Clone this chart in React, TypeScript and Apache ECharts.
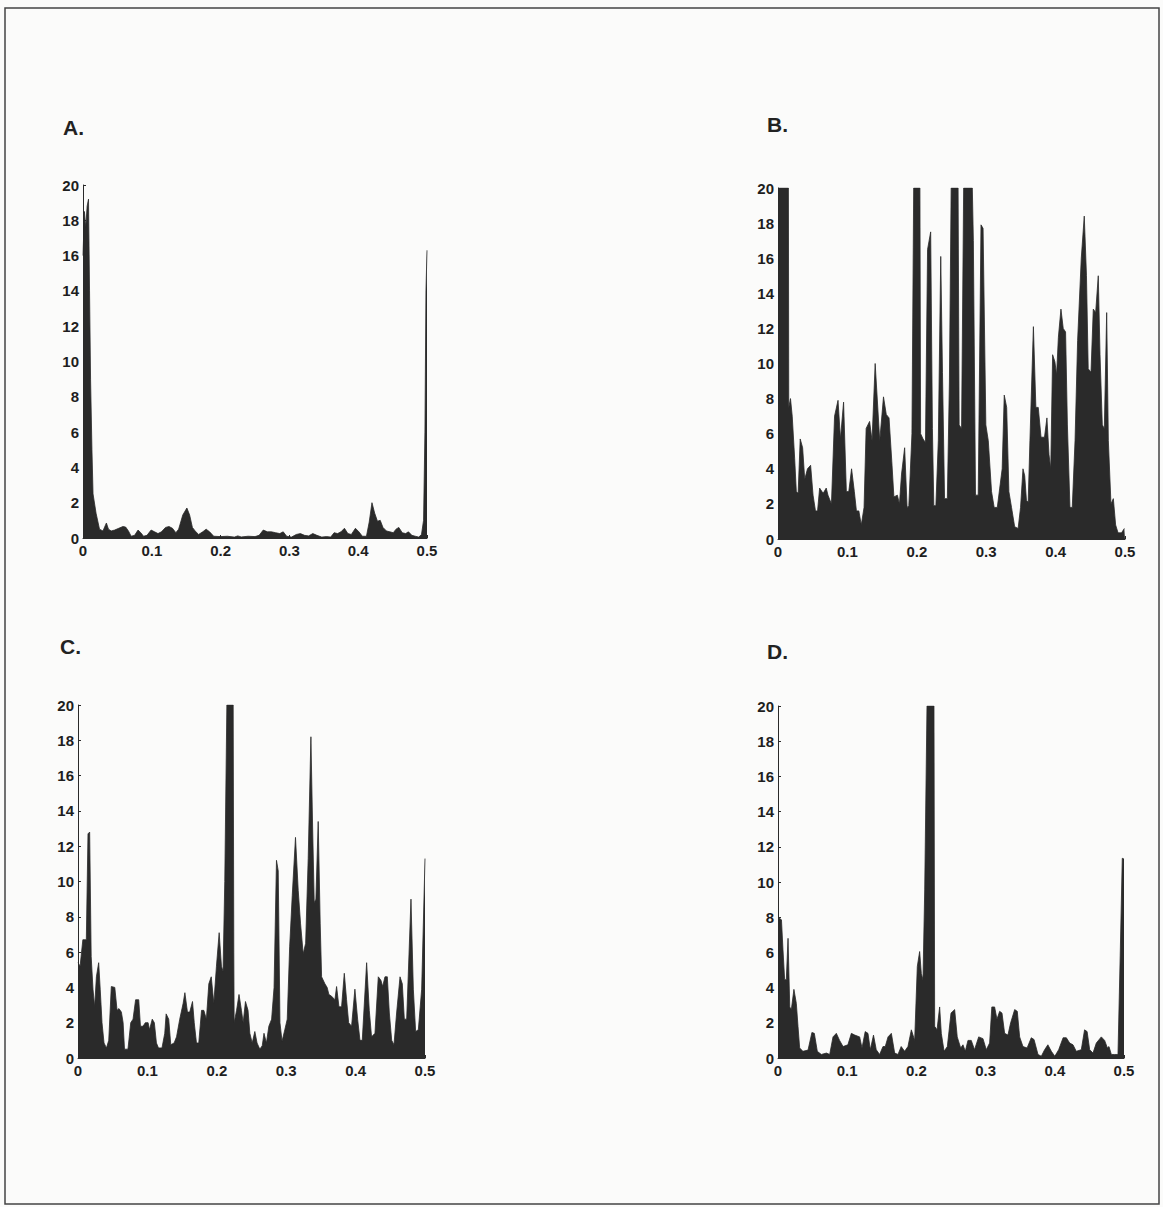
import React, { useEffect, useRef } from "react";
import * as echarts from "echarts";

// x from 0 to 0.5, y (clipped at 20)
const panelLabels = ["A.", "B.", "C.", "D."];
const xTicks = [0, 0.1, 0.2, 0.3, 0.4, 0.5];
const yTicks = [0, 2, 4, 6, 8, 10, 12, 14, 16, 18, 20];

const seriesA: [number, number][] = [
  [0, 16], [0.002, 18.5], [0.004, 17.6], [0.006, 18.8], [0.008, 19.2], [0.0095, 14], [0.011, 9], [0.013, 5],
  [0.0146, 2.5], [0.019, 1.4], [0.024, 0.5], [0.029, 0.4], [0.034, 0.85], [0.037, 0.5], [0.041, 0.4],
  [0.046, 0.45], [0.052, 0.55], [0.058, 0.65], [0.062, 0.62], [0.066, 0.4], [0.07, 0.1], [0.075, 0.15],
  [0.08, 0.45], [0.084, 0.3], [0.088, 0.1], [0.093, 0.15], [0.099, 0.45], [0.104, 0.35], [0.109, 0.25],
  [0.114, 0.35], [0.12, 0.6], [0.125, 0.65], [0.13, 0.55], [0.135, 0.3], [0.139, 0.5], [0.145, 1.3],
  [0.151, 1.7], [0.155, 1.3], [0.159, 0.6], [0.163, 0.4], [0.168, 0.2], [0.174, 0.35], [0.179, 0.5],
  [0.184, 0.35], [0.19, 0.1], [0.2, 0.08], [0.21, 0.1], [0.22, 0.05], [0.225, 0.12], [0.23, 0.06],
  [0.24, 0.1], [0.25, 0.08], [0.256, 0.15], [0.262, 0.45], [0.268, 0.35], [0.274, 0.35], [0.28, 0.3],
  [0.286, 0.25], [0.291, 0.35], [0.296, 0.1], [0.303, 0.05], [0.31, 0.2], [0.316, 0.25], [0.322, 0.15],
  [0.328, 0.12], [0.334, 0.25], [0.34, 0.15], [0.347, 0.05], [0.354, 0.08], [0.36, 0.05], [0.365, 0.3],
  [0.37, 0.25], [0.375, 0.35], [0.38, 0.55], [0.385, 0.25], [0.39, 0.2], [0.396, 0.55], [0.401, 0.35],
  [0.406, 0.1], [0.412, 0.1], [0.416, 0.9], [0.42, 2.0], [0.424, 1.4], [0.428, 0.95], [0.432, 1.0],
  [0.436, 0.6], [0.441, 0.4], [0.446, 0.35], [0.451, 0.3], [0.455, 0.5], [0.459, 0.6], [0.464, 0.3],
  [0.469, 0.25], [0.473, 0.35], [0.478, 0.15], [0.483, 0.1], [0.488, 0.05], [0.492, 0.2], [0.495, 1.0],
  [0.497, 6], [0.4985, 14], [0.5, 16.3],
];

const seriesB: [number, number][] = [
  [0, 20], [0.015, 20], [0.0155, 7.5], [0.018, 8], [0.0205, 7], [0.024, 4.6], [0.0264, 2.7], [0.029, 2.6],
  [0.032, 5.7], [0.0355, 5.2], [0.0385, 3.4], [0.0425, 4.0], [0.047, 4.2], [0.0505, 2.5], [0.054, 1.6],
  [0.057, 1.6], [0.06, 2.9], [0.065, 2.6], [0.0695, 2.9], [0.072, 2.5], [0.077, 2.0], [0.0815, 7.0],
  [0.0865, 7.9], [0.09, 5.7], [0.0945, 7.8], [0.0985, 2.7], [0.102, 2.7], [0.106, 4.0], [0.11, 2.7],
  [0.113, 1.6], [0.1165, 1.6], [0.12, 0.8], [0.124, 1.8], [0.127, 6.3], [0.132, 6.7], [0.1355, 5.6],
  [0.14, 10], [0.1466, 5.6], [0.152, 8.1], [0.156, 7.1], [0.16, 6.9], [0.164, 4.4], [0.167, 2.4],
  [0.172, 2.5], [0.175, 2.0], [0.178, 3.7], [0.1825, 5.2], [0.186, 1.8], [0.1885, 1.9], [0.193, 6],
  [0.1955, 20], [0.2045, 20], [0.2055, 6], [0.209, 5.7], [0.2125, 5.5], [0.2155, 16.5], [0.22, 17.5],
  [0.2225, 6.3], [0.2245, 1.9], [0.2275, 1.9], [0.231, 5.6], [0.2345, 16.1], [0.237, 9.5], [0.24, 2.3],
  [0.244, 2.3], [0.247, 9], [0.2495, 20], [0.2595, 20], [0.261, 6.5], [0.2645, 6.3], [0.2675, 20],
  [0.28, 20], [0.2815, 17], [0.2846, 2.5], [0.2885, 2.5], [0.2925, 17.9], [0.2955, 17.7], [0.2995, 6.5],
  [0.303, 5.6], [0.3077, 2.7], [0.3115, 1.8], [0.316, 1.8], [0.3195, 2.9], [0.323, 4.0], [0.326, 8.2],
  [0.3295, 7.5], [0.3327, 2.7], [0.3365, 1.8], [0.341, 0.7], [0.346, 0.6], [0.3495, 1.8], [0.353, 4.0],
  [0.3555, 3.6], [0.358, 2.2], [0.3605, 2.1], [0.363, 5.6], [0.368, 12.1], [0.3716, 7.5], [0.375, 7.5],
  [0.379, 5.8], [0.384, 5.8], [0.3875, 6.9], [0.3905, 4.8], [0.393, 4.0], [0.3957, 10.5], [0.399, 10.1],
  [0.4014, 9.35], [0.404, 11.5], [0.4077, 13.1], [0.411, 12], [0.4144, 11.8], [0.417, 6.5], [0.4207, 1.8],
  [0.424, 1.8], [0.428, 5.6], [0.4317, 11.3], [0.437, 16], [0.4413, 18.4], [0.4445, 15], [0.447, 9.7],
  [0.451, 9.5], [0.4543, 13.1], [0.4577, 12.9], [0.4615, 15], [0.464, 10.5], [0.4673, 6.5], [0.4702, 6.3],
  [0.4736, 12.9], [0.476, 5.6], [0.4798, 2.0], [0.4832, 2.3], [0.4865, 0.8], [0.49, 0.35], [0.495, 0.35],
  [0.499, 0.6], [0.5, 0.6],
];

const seriesC: [number, number][] = [
  [0, 5.4], [0.003, 5.2], [0.007, 6.7], [0.012, 6.7], [0.0144, 12.7], [0.0168, 12.8], [0.019, 5.75],
  [0.0216, 3.9], [0.024, 2.9], [0.0265, 4.6], [0.0298, 5.4], [0.032, 3.9], [0.0346, 2.0], [0.0375, 0.85],
  [0.041, 0.57], [0.0443, 1.0], [0.048, 4.05], [0.053, 4.0], [0.0563, 2.7], [0.059, 2.8], [0.0625, 2.6],
  [0.065, 2.0], [0.067, 0.5], [0.072, 0.5], [0.076, 2.0], [0.0793, 2.2], [0.083, 3.3], [0.0875, 3.3],
  [0.09, 1.8], [0.0937, 1.8], [0.097, 2.0], [0.101, 2.0], [0.103, 1.6], [0.107, 2.2], [0.11, 2.0],
  [0.113, 0.85], [0.116, 0.57], [0.121, 0.57], [0.125, 1.4], [0.127, 2.5], [0.1307, 2.2], [0.1337, 0.75],
  [0.1385, 0.85], [0.142, 1.2], [0.1466, 2.2], [0.1515, 3.1], [0.154, 3.7], [0.1577, 2.6], [0.161, 2.6],
  [0.165, 3.2], [0.1675, 2.0], [0.1707, 0.85], [0.174, 0.85], [0.178, 2.7], [0.1813, 2.7], [0.185, 2.2],
  [0.1885, 4.2], [0.192, 4.6], [0.1957, 3.1], [0.1995, 5.2], [0.2034, 7.1], [0.2067, 5.2], [0.209, 4.9],
  [0.2115, 10], [0.2145, 20], [0.2236, 20], [0.2245, 6], [0.225, 2.0], [0.2285, 2.7], [0.232, 3.6],
  [0.2355, 2.7], [0.238, 2.0], [0.2413, 3.2], [0.245, 2.7], [0.2476, 1.4], [0.251, 0.85], [0.2548, 1.5],
  [0.258, 0.85], [0.262, 0.5], [0.2655, 0.7], [0.268, 1.4], [0.2715, 0.85], [0.275, 1.8], [0.279, 2.2],
  [0.2825, 4], [0.286, 11.2], [0.2885, 10.6], [0.291, 2.0], [0.294, 0.95], [0.298, 1.6], [0.3015, 2.2],
  [0.305, 6.3], [0.3087, 9.2], [0.3134, 12.5], [0.3173, 9.5], [0.3207, 7.6], [0.3245, 5.9], [0.328, 6.5],
  [0.3317, 11.3], [0.3356, 18.2], [0.338, 13.2], [0.3404, 8.8], [0.3428, 9], [0.3461, 13.4], [0.349, 7.6],
  [0.351, 4.6], [0.3558, 4.2], [0.359, 4.0], [0.3615, 3.6], [0.3654, 3.5], [0.3702, 3.3], [0.3726, 4.05],
  [0.376, 2.9], [0.3798, 2.9], [0.3837, 4.8], [0.387, 3.3], [0.39, 2.0], [0.3942, 1.8], [0.399, 3.9],
  [0.4029, 2.2], [0.4063, 1.0], [0.4096, 1.0], [0.4159, 5.4], [0.4197, 2.7], [0.423, 1.2], [0.4279, 1.4],
  [0.4327, 4.6], [0.4365, 4.4], [0.439, 4.05], [0.4423, 4.6], [0.4457, 4.6], [0.4486, 2.55], [0.452, 1.0],
  [0.4553, 0.75], [0.4591, 2.55], [0.464, 4.6], [0.4673, 4.2], [0.4702, 2.2], [0.4736, 2.2], [0.4798, 9.0],
  [0.4832, 3.9], [0.4865, 1.5], [0.4904, 1.6], [0.4952, 3.9], [0.5, 11.3],
];

const seriesD: [number, number][] = [
  [0, 8.0], [0.005, 7.85], [0.0072, 6.15], [0.0096, 4.45], [0.012, 4.45], [0.0145, 6.8], [0.017, 2.9],
  [0.0193, 2.75], [0.023, 3.9], [0.0265, 3.1], [0.0289, 1.8], [0.0313, 0.57], [0.036, 0.38], [0.0434, 0.45],
  [0.049, 1.45], [0.0525, 1.4], [0.0568, 0.38], [0.0626, 0.2], [0.07, 0.28], [0.0747, 0.2], [0.0795, 1.2],
  [0.0843, 1.4], [0.089, 1.0], [0.094, 0.65], [0.101, 0.75], [0.106, 1.4], [0.111, 1.3], [0.118, 1.2],
  [0.1214, 0.57], [0.126, 1.5], [0.13, 1.4], [0.1334, 0.47], [0.138, 1.3], [0.142, 0.47], [0.1469, 0.2],
  [0.1517, 0.65], [0.155, 0.65], [0.159, 1.2], [0.1638, 1.4], [0.1686, 0.28], [0.1734, 0.2], [0.178, 0.65],
  [0.183, 0.38], [0.1878, 0.65], [0.1927, 1.6], [0.1975, 1.0], [0.2013, 5.2], [0.2047, 6.05], [0.2071, 4.8],
  [0.2095, 4.45], [0.212, 9.55], [0.2153, 20], [0.2254, 20], [0.2264, 1.8], [0.2298, 1.6], [0.2336, 2.9],
  [0.236, 1.4], [0.24, 0.38], [0.2447, 0.65], [0.25, 2.55], [0.2553, 2.75], [0.259, 1.2], [0.264, 0.57],
  [0.2673, 0.75], [0.2707, 0.38], [0.2745, 1.0], [0.2793, 1.0], [0.284, 0.47], [0.29, 1.2], [0.2962, 1.1],
  [0.301, 0.47], [0.3058, 0.85], [0.309, 2.9], [0.313, 2.9], [0.3164, 2.2], [0.3203, 2.65], [0.3237, 2.55],
  [0.3275, 1.4], [0.3323, 1.3], [0.3362, 2.0], [0.342, 2.75], [0.3458, 2.65], [0.3492, 1.2], [0.354, 0.65],
  [0.36, 0.57], [0.366, 1.15], [0.37, 1.05], [0.3757, 0.2], [0.3805, 0.1], [0.3853, 0.47], [0.39, 0.75],
  [0.395, 0.38], [0.4, 0.1], [0.4056, 0.47], [0.412, 1.15], [0.4167, 1.15], [0.4215, 0.85], [0.4263, 0.75],
  [0.431, 0.38], [0.4383, 0.47], [0.443, 1.6], [0.4467, 1.5], [0.4504, 0.47], [0.4552, 0.28], [0.46, 0.85],
  [0.4672, 1.2], [0.472, 1.0], [0.476, 0.57], [0.4783, 0.65], [0.4817, 0.2], [0.4865, 0.2], [0.4913, 0.2],
  [0.4945, 5.8], [0.4975, 11.35], [0.5, 11.3],
];

const allSeries = [seriesA, seriesB, seriesC, seriesD];

const FONT = "'Liberation Sans', Arial, Helvetica, sans-serif";
const INK = "#2a2a2a";

export default function App() {
  const ref = useRef<HTMLDivElement>(null);

  useEffect(() => {
    document.body.style.margin = "0";
    if (!ref.current) return;
    const chart = echarts.init(ref.current, undefined, { renderer: "svg" });

    const grids = [
      { left: 83, top: 185, width: 344, height: 353 },
      { left: 778, top: 188, width: 347, height: 351 },
      { left: 78, top: 705, width: 347, height: 353 },
      { left: 778, top: 706, width: 346, height: 352 },
    ];
    const labelPos = [
      { x: 63, y: 117 },
      { x: 767, y: 114 },
      { x: 60, y: 636 },
      { x: 767, y: 641 },
    ];

    const axisCommon = {
      axisLine: { show: true, lineStyle: { color: INK, width: 1 } },
      axisTick: { show: true, inside: true, length: 3, lineStyle: { color: INK } },
      splitLine: { show: false },
      axisLabel: { color: "#1e1e1e", fontFamily: FONT, fontSize: 15, fontWeight: "bold" },
    };

    const option: any = {
      animation: false,
      backgroundColor: "#fbfbfa",
      grid: grids.map((g) => ({ ...g, containLabel: false })),
      xAxis: grids.map((_, i) => ({
        type: "value",
        gridIndex: i,
        min: xTicks[0],
        max: xTicks[xTicks.length - 1],
        interval: 0.1,
        ...axisCommon,
        axisLabel: { ...axisCommon.axisLabel, margin: 5, formatter: (v: number) => (v === 0 ? "0" : v.toFixed(1)) },
      })),
      yAxis: grids.map((_, i) => ({
        type: "value",
        gridIndex: i,
        min: yTicks[0],
        max: yTicks[yTicks.length - 1],
        interval: 2,
        ...axisCommon,
        axisLabel: { ...axisCommon.axisLabel, margin: 4 },
      })),
      series: allSeries.map((d, i) => ({
        type: "line",
        xAxisIndex: i,
        yAxisIndex: i,
        data: d,
        showSymbol: false,
        symbol: "none",
        clip: true,
        lineStyle: { color: INK, width: 0.8 },
        areaStyle: { color: INK, opacity: 1 },
        z: 1,
      })),
      graphic: [
        {
          type: "rect",
          shape: { x: 5, y: 8, width: 1154, height: 1196 },
          style: { fill: "none", stroke: "#444", lineWidth: 1.5 },
          silent: true,
        },
        ...panelLabels.map((t, i) => ({
          type: "text",
          x: labelPos[i].x,
          y: labelPos[i].y,
          style: { text: t, fill: "#222", font: `bold 21px ${FONT}`, textVerticalAlign: "top" },
        })),
      ],
    };

    chart.setOption(option);
    return () => chart.dispose();
  }, []);

  return <div ref={ref} style={{ width: 1163, height: 1207 }} />;
}
